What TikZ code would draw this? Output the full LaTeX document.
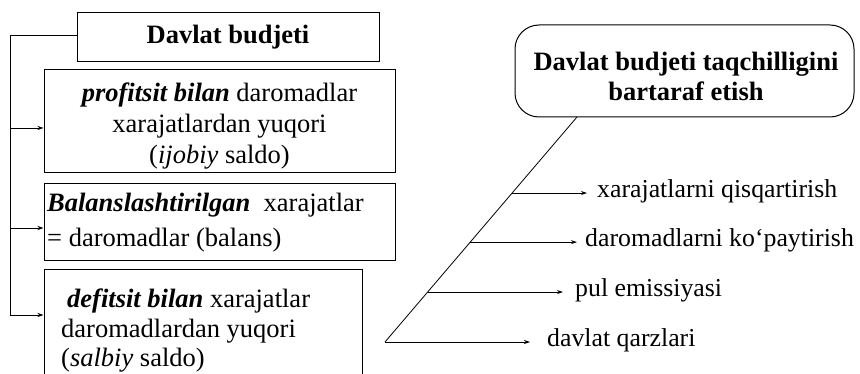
\documentclass[tikz,border=0pt]{standalone}
\usepackage{fontspec}
\setmainfont{Liberation Serif}
\usetikzlibrary{arrows.meta,calc}
\begin{document}
\begin{tikzpicture}[x=1pt,y=-1pt,
  font=\fontsize{26.5}{31}\selectfont,
  boxst/.style={draw, line width=1pt, inner sep=0pt},
  conn/.style={line width=0.8pt},
  arr/.style={line width=0.8pt, -{Stealth[length=6pt,width=4pt]}},
  lbl/.style={anchor=west, inner sep=0pt, font=\fontsize{25.8}{30}\selectfont},
  txt/.style={inner sep=0pt}]
\useasboundingbox (0,0) rectangle (860,374);
% left boxes
\node[boxst, minimum width=302pt, minimum height=49pt] (b1) at (228,37.5) {\textbf{Davlat budjeti}};
\node[boxst, minimum width=351pt, minimum height=103pt] (b2) at (219.5,121.5) {};
\node[txt, align=center] (b2t) at (219.5,126)
  {\textbf{\textit{profitsit bilan}} daromadlar\\xarajatlardan yuqori\\(\textit{ijobiy} saldo)};
\node[boxst, minimum width=351pt, minimum height=77pt] (b3) at (219.5,222.5) {};
\node[txt, anchor=west, align=left, font=\fontsize{26.5}{35}\selectfont] (b3t) at (47,222.5)
  {\textbf{\textit{Balanslashtirilgan}}\ \ xarajatlar\\= daromadlar (balans)};
\node[boxst, minimum width=318pt, minimum height=122pt] (b4) at (203,331) {};
\node[txt, anchor=west, align=left, font=\fontsize{26.5}{29.5}\selectfont] (b4t) at (61,331)
  {\hspace{6pt}\textbf{\textit{defitsit bilan}} xarajatlar\\daromadlardan yuqori\\(\textit{salbiy} saldo)};
% left connector
\coordinate (top) at (10,35);
\coordinate (j2) at (10,128);
\coordinate (j3) at (10,228);
\coordinate (j4) at (10,315);
\draw[conn] (b1.west |- top) -- (top) -- (j4);
\draw[arr] (j2) -- (j2 -| b2.west);
\draw[arr] (j3) -- (j3 -| b3.west);
\draw[arr] (j4) -- (j4 -| b4.west);
% right part
\node[draw, line width=1pt, rounded corners=24pt, minimum width=339pt, minimum height=92pt] (r) at (684.5,71) {};
\node[txt, align=center, font=\bfseries\fontsize{26.5}{30}\selectfont] (rt) at (686,76)
  {Davlat budjeti taqchilligini\\bartaraf etish};
\coordinate (dtop) at (577,117);
\coordinate (dbot) at (385,342);
\draw[conn] (dtop) -- (dbot);
\coordinate (s1) at ($(dbot)!0.662!(dtop)$);
\coordinate (s2) at ($(dbot)!0.444!(dtop)$);
\coordinate (s3) at ($(dbot)!0.222!(dtop)$);
\coordinate (s4) at (dbot);
\node[lbl] (t1) at (597,191) {xarajatlarni qisqartirish};
\node[lbl] (t2) at (585,240) {daromadlarni ko‘paytirish};
\node[lbl] (t3) at (575,290) {pul emissiyasi};
\node[lbl] (t4) at (547,340) {davlat qarzlari};
\draw[arr] (s1) -- ([xshift=-10pt]t1.west |- s1);
\draw[arr] (s2) -- ([xshift=-8pt]t2.west |- s2);
\draw[arr] (s3) -- ([xshift=-12pt]t3.west |- s3);
\draw[arr] (s4) -- ([xshift=-17pt]t4.west |- s4);
\end{tikzpicture}
\end{document}
